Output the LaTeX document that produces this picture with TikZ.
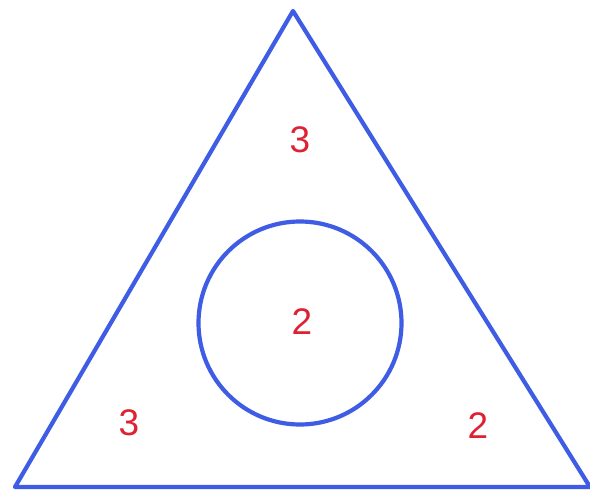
\documentclass[tikz,border=0pt]{standalone}
\usepackage{fontspec}
\setmainfont{Liberation Sans}
\definecolor{lineblue}{RGB}{62,92,228}
\definecolor{labelred}{RGB}{222,34,52}
\tikzset{
  edge/.style={draw=lineblue, line width=4.2pt, line join=round},
  lab/.style={text=labelred, font=\fontsize{37}{40}\selectfont, inner sep=0pt}
}
\begin{document}
\begin{tikzpicture}[x=1pt,y=-1pt]
\useasboundingbox (0,0) rectangle (590,491);
\fill[white] (0,0) rectangle (590,491);
\coordinate (apex) at (293,11);
\coordinate (bl) at (15,487);
\coordinate (br) at (590,487);
\draw[edge] (apex) -- (bl) -- (br) -- cycle;
\node[edge, circle, minimum size=203pt, inner sep=0pt] (ring) at (300,323) {};
\node[lab] (top) at (300,140) {3};
\node[lab] (mid) at (302,322) {2};
\node[lab] (left) at (129,423) {3};
\node[lab] (right) at (478,426) {2};
\end{tikzpicture}
\end{document}
